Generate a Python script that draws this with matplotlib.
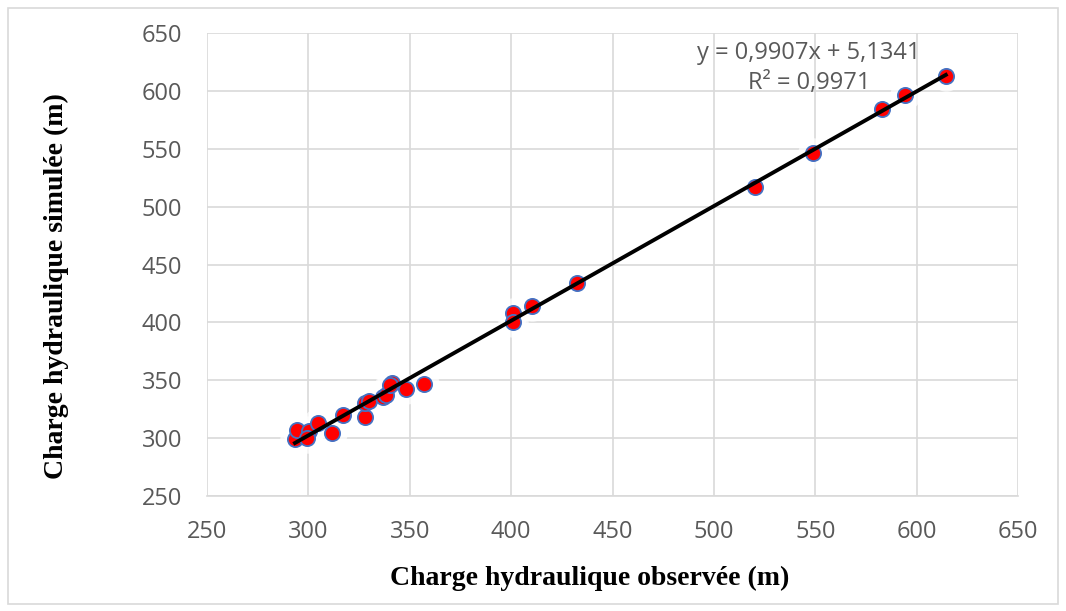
import matplotlib.pyplot as plt
from matplotlib.patches import Rectangle
import numpy as np

observed = [293.4, 294.5, 300.5, 299.2, 304.9, 311.5, 317.2, 327.9, 327.9, 330.0,
            337.0, 338.3, 341.0, 340.2, 348.1, 357.0, 400.7, 401.0, 410.4, 432.3,
            520.2, 548.7, 582.7, 594.2, 614.4]
simulated = [299.0, 307.0, 306.0, 299.8, 312.8, 304.7, 320.0, 318.5, 330.0, 332.3,
             335.5, 337.3, 348.0, 346.0, 342.4, 346.8, 408.4, 400.6, 414.1, 433.8,
             517.0, 546.6, 584.3, 596.7, 612.9]
slope = 0.9907
intercept = 5.1341
ticks = [250, 300, 350, 400, 450, 500, 550, 600, 650]

grid_col = "#D9D9D9"
txt_col = "#595959"

fig = plt.figure(figsize=(10.66, 6.11), dpi=100)
ax = fig.add_axes([207 / 1066, 1 - 496 / 611, (1018 - 207) / 1066, (496 - 33) / 611])

ax.set_xlim(250, 650)
ax.set_ylim(250, 650)
ax.set_xticks(ticks)
ax.set_yticks(ticks)
ax.grid(True, color=grid_col, linewidth=1.2)
ax.set_axisbelow(True)
for side in ["top", "right", "left"]:
    ax.spines[side].set_visible(False)
ax.spines["bottom"].set_color(grid_col)
ax.spines["bottom"].set_linewidth(1.2)
ax.tick_params(length=0, pad=18, labelcolor=txt_col, labelsize=17, labelfontfamily="Open Sans")
ax.tick_params(axis="x", pad=17)

# soft white halo behind markers
ax.scatter(observed, simulated, s=480, color="white", alpha=0.7, zorder=2, linewidths=0)
ax.scatter(observed, simulated, s=120, color="#FF0000", edgecolors="#4472C4",
           linewidths=1.3, zorder=3)

x_fit = np.array([min(observed), max(observed)])
ax.plot(x_fit, slope * x_fit + intercept, color="black", linewidth=2.8, zorder=4)

ax.text(491.6, 632.7, "y = 0,9907x + 5,1341", color=txt_col, fontsize=17,
        family="Open Sans", ha="left", va="center", zorder=5)
ax.text(516.8, 606.8, "R² = 0,9971", color=txt_col, fontsize=17,
        family="Open Sans", ha="left", va="center", zorder=5)

fig.text(590 / 1066, 1 - 578 / 611, "Charge hydraulique observée (m)", ha="center", va="center",
         family="Liberation Serif", fontweight="bold", fontsize=20)
fig.text(56 / 1066, 1 - 286 / 611, "Charge hydraulique simulée (m)", ha="center", va="center",
         rotation=90, family="Liberation Serif", fontweight="bold", fontsize=20)

fig.patches.append(Rectangle((8 / 1066, 1 - 604 / 611), 1050 / 1066, 596 / 611,
                             transform=fig.transFigure, fill=False,
                             edgecolor=grid_col, linewidth=1.2))

fig.savefig("out.png", dpi=100)
